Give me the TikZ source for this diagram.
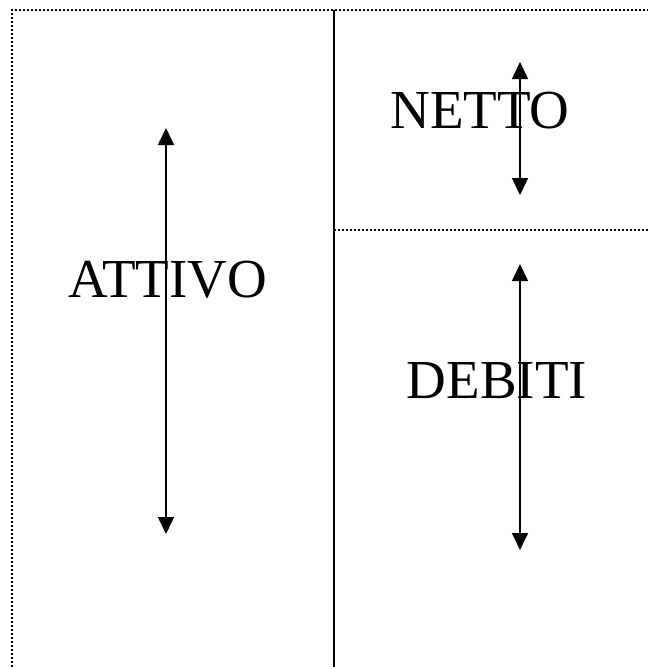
\documentclass[tikz,border=0pt]{standalone}
\usepackage{fontspec}
\setmainfont{Liberation Serif}
\usetikzlibrary{arrows.meta}
\begin{document}
\begin{tikzpicture}[x=1pt,y=-1pt,
  dotline/.style={line width=1.6pt,dash pattern=on 1.6pt off 2.4pt,black},
  solidline/.style={line width=2pt,black},
  dblarrow/.style={line width=1.6pt,{Triangle[length=17pt,width=16pt]}-{Triangle[length=17pt,width=16pt]}},
  lbl/.style={font=\fontsize{55}{60}\selectfont,inner sep=0pt,anchor=base}]
\useasboundingbox (0,0) rectangle (648,667);
% frame
\coordinate (tl) at (12,10);
\coordinate (bl) at (12,667);
\coordinate (tr) at (648,10);
\coordinate (mt) at (333.5,10);
\coordinate (mb) at (333.5,667);
\coordinate (ml) at (334,230);
\coordinate (mr) at (648,230);
\draw[dotline] (bl) -- (tl) -- (tr);
\draw[dotline] (ml) -- (mr);
\draw[solidline] (mt) -- (mb);
% labels
\node[lbl] (attivo) at (168,297) {ATTIVO};
\node[lbl] (netto) at (480,128) {NETTO};
\node[lbl] (debiti) at (497,398) {DEBITI};
% arrows
\coordinate (a1) at (166,128);
\coordinate (a2) at (166,534);
\coordinate (n1) at (520,62);
\coordinate (n2) at (520,195);
\coordinate (d1) at (520,264);
\coordinate (d2) at (520,550);
\draw[dblarrow] (a1) -- (a2);
\draw[dblarrow] (n1) -- (n2);
\draw[dblarrow] (d1) -- (d2);
\end{tikzpicture}
\end{document}
